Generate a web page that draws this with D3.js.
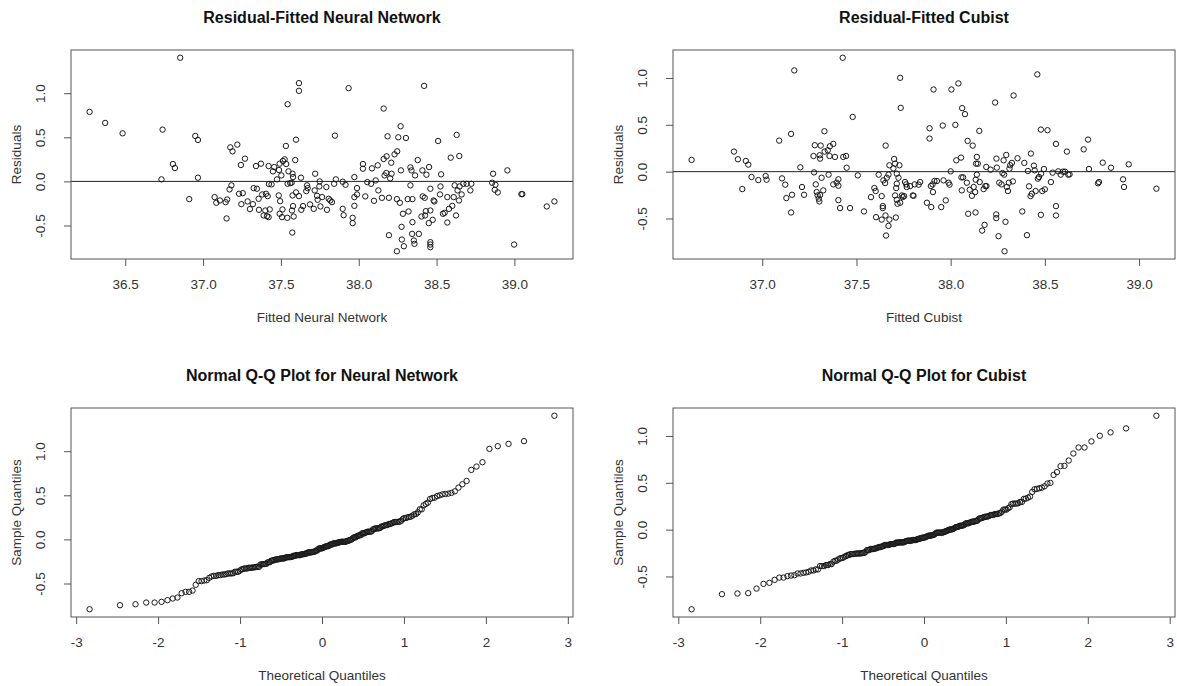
<!DOCTYPE html>
<html>
<head>
<meta charset="utf-8">
<script src="https://cdn.jsdelivr.net/npm/d3@7"></script>
<style>
body{margin:0;background:#fff;}
text{font-family:"Liberation Sans",Arial,sans-serif;}
</style>
</head>
<body>
<script>
// residuals, neural network model
var nnFitted=[36.271,36.371,36.483,36.853,36.740,36.733,36.806,36.819,36.950,36.967,36.967,36.911,
37.074,37.085,37.108,37.145,37.155,37.151,37.170,37.182,37.175,37.189,37.220,37.243,37.269,37.231,
37.255,37.246,37.286,37.301,37.320,37.325,37.346,37.340,37.372,37.357,37.359,37.380,37.389,37.400,
37.410,37.421,37.428,37.415,37.404,37.421,37.423,37.440,37.457,37.449,37.475,37.488,37.492,37.503,
37.513,37.524,37.534,37.549,37.532,37.543,37.597,37.592,37.616,37.616,37.575,37.578,37.560,37.543,
37.569,37.629,37.486,37.495,37.510,37.492,37.507,37.541,37.575,37.578,37.571,37.582,37.573,37.597,
37.616,37.642,37.631,37.663,37.672,37.668,37.687,37.711,37.720,37.717,37.732,37.736,37.749,37.747,
37.765,37.754,37.796,37.792,37.807,37.817,37.828,
37.935,37.847,37.853,37.842,37.897,37.915,37.897,37.903,37.961,37.961,37.972,37.972,37.989,37.989,
37.972,38.027,38.027,38.042,38.055,38.079,38.085,38.098,38.109,38.122,38.126,38.149,38.160,38.160,
38.166,38.177,38.179,38.185,38.194,38.202,38.209,38.211,38.194,38.230,38.247,38.245,38.264,38.254,
38.269,38.303,38.271,38.284,38.275,38.277,38.290,38.245,38.315,38.320,38.332,38.339,38.345,38.332,
38.345,38.343,38.354,38.358,38.362,38.379,38.386,38.403,38.409,38.420,38.411,38.424,38.431,38.426,
38.435,38.452,38.460,38.460,38.460,38.460,38.460,38.450,38.475,38.481,38.486,38.510,38.522,38.525,
38.529,38.541,38.552,38.569,38.569,38.580,38.591,38.601,38.610,38.616,38.625,38.629,38.635,38.644,
38.646,38.648,38.661,38.672,38.693,38.717,38.723,38.863,38.857,38.878,38.874,38.893,38.955,38.998,
39.045,39.051,39.208,39.257];
var nnResid=[0.788,0.663,0.545,1.402,0.587,0.023,0.197,0.152,0.515,0.470,0.042,-0.201,
-0.178,-0.242,-0.216,-0.235,-0.205,-0.420,-0.091,-0.045,0.386,0.341,0.417,0.186,0.258,-0.140,
-0.133,-0.258,-0.227,-0.314,-0.258,-0.076,-0.083,0.174,0.201,-0.197,-0.322,-0.148,-0.386,-0.330,
-0.394,-0.405,-0.318,-0.167,-0.140,0.174,-0.030,-0.034,0.163,0.114,0.023,0.129,0.201,0.068,
0.231,0.250,0.197,0.114,0.402,0.875,0.473,0.242,1.114,1.027,0.087,0.049,-0.019,-0.027,
-0.015,0.042,-0.159,-0.224,-0.318,-0.367,-0.405,-0.413,-0.159,-0.280,-0.330,-0.398,-0.580,-0.125,
-0.167,-0.280,-0.322,-0.110,-0.076,-0.045,-0.261,-0.311,0.087,-0.102,-0.163,-0.208,0.000,-0.057,
-0.178,-0.284,-0.322,-0.064,-0.197,-0.216,-0.235,
1.057,0.519,0.023,-0.027,-0.004,-0.038,-0.311,-0.383,-0.413,-0.473,-0.277,-0.178,-0.148,-0.076,
0.049,0.197,0.144,-0.170,-0.008,-0.027,0.148,-0.220,0.011,0.182,-0.102,-0.186,0.254,0.826,
0.068,0.095,0.284,0.511,-0.186,0.034,0.212,0.087,-0.610,0.307,0.341,-0.201,-0.242,0.500,
0.625,0.492,0.125,-0.367,-0.515,-0.659,-0.735,-0.792,-0.201,-0.341,0.159,0.125,-0.201,-0.045,
-0.462,-0.595,-0.670,-0.708,0.068,0.242,-0.595,-0.398,0.125,1.083,-0.170,-0.186,-0.337,-0.386,
0.076,0.163,-0.083,-0.330,-0.689,-0.716,-0.746,-0.473,-0.436,-0.216,-0.227,0.458,-0.148,-0.057,
0.080,-0.367,-0.356,-0.178,-0.466,-0.311,0.269,-0.277,-0.178,-0.045,-0.386,0.527,-0.102,-0.216,
0.288,-0.057,-0.148,-0.027,-0.027,-0.102,-0.027,0.087,-0.015,-0.038,-0.095,-0.125,0.125,-0.716,
-0.144,-0.144,-0.284,-0.227];

// residuals, cubist model
var cbFitted=[36.625,36.850,36.871,36.894,36.913,36.926,36.943,36.979,37.018,37.023,37.090,37.105,
37.122,37.128,37.153,37.158,37.153,37.170,37.202,37.211,37.222,37.272,37.279,37.275,37.284,37.289,
37.294,37.300,37.307,37.307,37.305,37.310,37.315,37.303,37.324,37.330,37.331,37.348,37.352,37.357,
37.359,37.377,37.377,37.386,37.395,37.404,37.404,37.404,37.413,37.427,37.430,37.445,37.448,37.466,
37.480,37.507,37.540,37.577,37.595,37.602,37.604,37.618,
37.655,37.634,37.640,37.640,37.634,37.654,37.675,37.670,37.657,37.709,37.643,37.652,37.661,37.670,
37.675,37.700,37.705,37.728,37.696,37.714,37.723,37.732,37.735,37.714,37.711,37.705,37.714,37.718,
37.732,37.741,37.746,37.753,37.758,37.764,37.767,37.785,37.799,37.803,37.809,37.830,37.838,37.874,
37.888,37.888,37.895,37.897,37.906,37.904,37.909,37.914,37.927,37.950,37.958,37.962,37.974,37.989,
37.994,38.000,38.004,38.025,38.030,38.041,38.055,38.057,38.066,38.061,38.076,38.059,38.086,38.090,
38.093,38.101,38.113,38.117,38.122,38.132,38.133,38.135,38.144,38.139,38.139,38.130,38.152,38.154,
38.175,38.184,38.189,38.190,38.167,38.180,38.212,38.236,38.243,38.245,38.242,38.242,38.254,38.258,
38.270,38.275,38.281,38.284,38.291,38.286,38.295,38.298,38.304,38.309,38.312,38.316,38.325,38.334,
38.330,38.355,38.380,38.391,38.405,38.416,38.426,38.410,38.424,38.431,38.442,38.446,38.451,38.460,
38.463,38.469,38.479,38.479,38.486,38.480,38.495,38.500,38.514,38.532,38.541,38.559,38.559,38.559,
38.571,38.584,38.596,38.607,38.617,38.624,38.631,38.706,38.729,38.734,38.782,38.787,38.807,38.851,
38.915,38.920,38.945,39.092];
var cbResid=[0.125,0.214,0.132,-0.186,0.114,0.075,-0.057,-0.090,-0.047,-0.086,0.331,-0.072,
-0.139,-0.282,0.403,-0.247,-0.436,1.081,0.046,-0.164,-0.247,0.167,0.282,-0.008,-0.136,-0.218,
-0.254,-0.289,-0.250,0.139,0.175,0.278,-0.065,-0.318,-0.200,0.431,0.214,0.228,-0.032,0.167,
0.271,0.296,-0.136,0.157,-0.118,-0.150,-0.082,-0.304,-0.389,1.216,0.157,0.167,0.042,-0.389,
0.584,-0.040,-0.425,-0.272,-0.175,-0.207,-0.486,-0.032,
0.278,-0.261,-0.368,-0.389,-0.512,-0.468,-0.512,-0.579,-0.682,-0.490,-0.093,-0.122,-0.065,-0.032,
0.068,0.135,0.085,0.068,0.035,-0.022,-0.065,1.002,0.681,-0.129,-0.175,-0.254,-0.300,-0.343,
-0.332,-0.254,-0.272,-0.261,-0.111,-0.136,-0.164,-0.154,-0.254,-0.258,-0.136,-0.139,-0.111,-0.332,
0.463,0.353,-0.154,-0.378,-0.218,-0.136,0.877,-0.100,-0.100,-0.378,0.492,-0.093,-0.307,-0.118,
-0.139,0.003,0.877,0.499,0.121,0.942,0.150,-0.061,-0.061,0.678,0.614,-0.200,-0.118,0.328,
-0.450,-0.193,-0.258,0.278,-0.164,-0.436,-0.086,0.085,0.085,0.157,-0.032,-0.218,0.435,-0.111,
-0.186,-0.154,0.050,-0.154,-0.629,-0.568,0.021,0.738,0.139,0.043,-0.457,-0.496,-0.689,-0.118,
-0.136,-0.015,0.121,-0.032,-0.536,-0.850,0.178,-0.164,-0.207,-0.118,0.032,0.068,0.093,0.813,
-0.104,0.143,-0.425,0.093,-0.678,-0.157,0.193,0.007,-0.261,-0.236,0.064,0.014,-0.207,1.038,
-0.075,-0.057,0.449,-0.461,-0.207,-0.022,0.028,-0.189,0.442,-0.111,-0.011,0.296,-0.368,-0.468,
0.003,-0.032,0.000,0.000,0.214,-0.032,-0.029,0.238,0.342,0.028,-0.125,-0.111,0.096,0.042,
-0.082,-0.164,0.078,-0.182];

var nnXTicks=[36.5,37.0,37.5,38.0,38.5,39.0];
var cbXTicks=[37.0,37.5,38.0,38.5,39.0];
var residTicks=[-0.5,0.0,0.5,1.0];
var qqTicks=[-3,-2,-1,0,1,2,3];

var svg=d3.select("body").append("svg")
    .attr("width",1177)
    .attr("height",686);

// inverse normal cdf (Acklam), used the same way as qnorm(ppoints(n)) in R
function qnorm(p){
    var a=[-3.969683028665376e+01,2.209460984245205e+02,-2.759285104469687e+02,1.383577518672690e+02,-3.066479806614716e+01,2.506628277459239e+00];
    var b=[-5.447609879822406e+01,1.615858368580409e+02,-1.556989798598866e+02,6.680131188771972e+01,-1.328068155288572e+01];
    var c=[-7.784894002430293e-03,-3.223964580411365e-01,-2.400758277161838e+00,-2.549671010243269e+00,4.374664141464968e+00,2.938163982698783e+00];
    var d=[7.784695709041462e-03,3.224671290700398e-01,2.445134137142996e+00,3.754408661907416e+00];
    var q,r;
    if(p<0.02425){
        q=Math.sqrt(-2*Math.log(p));
        return (((((c[0]*q+c[1])*q+c[2])*q+c[3])*q+c[4])*q+c[5])/((((d[0]*q+d[1])*q+d[2])*q+d[3])*q+1);
    }
    if(p>1-0.02425){
        q=Math.sqrt(-2*Math.log(1-p));
        return -(((((c[0]*q+c[1])*q+c[2])*q+c[3])*q+c[4])*q+c[5])/((((d[0]*q+d[1])*q+d[2])*q+d[3])*q+1);
    }
    q=p-0.5; r=q*q;
    return (((((a[0]*r+a[1])*r+a[2])*r+a[3])*r+a[4])*r+a[5])*q/(((((b[0]*r+b[1])*r+b[2])*r+b[3])*r+b[4])*r+1);
}

function qqData(res){
    var s=res.slice().sort(d3.ascending);
    var n=s.length;
    return {x:s.map(function(v,i){return qnorm((i+0.5)/n);}),y:s};
}

// R pads the data range by 4% on each side
function pad(ext){
    var r=ext[1]-ext[0];
    return [ext[0]-0.04*r,ext[1]+0.04*r];
}

var f1=function(d){return d.toFixed(1);};
var f0=function(d){return String(d);};

function panel(o){
    var g=svg.append("g");
    var x=d3.scaleLinear().domain(pad(d3.extent(o.xs))).range([o.left,o.right]);
    var y=d3.scaleLinear().domain(pad(d3.extent(o.ys))).range([o.bottom,o.top]);

    if(o.hline){
        g.append("line")
            .attr("x1",o.left).attr("x2",o.right)
            .attr("y1",y(0)).attr("y2",y(0))
            .attr("stroke","#222").attr("stroke-width",1);
    }

    g.selectAll("circle")
        .data(d3.range(o.xs.length))
        .enter()
        .append("circle")
        .attr("cx",function(i){return x(o.xs[i]);})
        .attr("cy",function(i){return y(o.ys[i]);})
        .attr("r",2.7)
        .attr("fill","none")
        .attr("stroke","#1a1a1a")
        .attr("stroke-width",1);

    g.append("rect")
        .attr("x",o.left).attr("y",o.top)
        .attr("width",o.right-o.left).attr("height",o.bottom-o.top)
        .attr("fill","none").attr("stroke","#555").attr("stroke-width",1);

    var ax=g.append("g")
        .attr("transform","translate(0,"+o.bottom+")")
        .call(d3.axisBottom(x).tickValues(o.xTicks).tickFormat(o.xFmt).tickSize(7));
    ax.select(".domain").remove();
    ax.selectAll("line").attr("stroke","#555");
    ax.selectAll("text").attr("y",30).attr("dy",0)
        .attr("fill","#333").style("font-size","13.5px").style("font-family","Liberation Sans, Arial, sans-serif");

    var ay=g.append("g")
        .attr("transform","translate("+o.left+",0)")
        .call(d3.axisLeft(y).tickValues(o.yTicks).tickFormat(f1).tickSize(7));
    ay.select(".domain").remove();
    ay.selectAll("line").attr("stroke","#555");
    ay.selectAll("text")
        .attr("x",0).attr("y",-26).attr("dy",0)
        .attr("transform","rotate(-90)")
        .attr("text-anchor","middle")
        .attr("fill","#333").style("font-size","13.5px").style("font-family","Liberation Sans, Arial, sans-serif");

    var cx=(o.left+o.right)/2, cy=(o.top+o.bottom)/2;
    g.append("text")
        .attr("x",cx).attr("y",o.top-27)
        .attr("text-anchor","middle")
        .style("font-size","16px").style("font-weight","bold")
        .attr("fill","#111")
        .text(o.title);
    g.append("text")
        .attr("x",cx).attr("y",o.bottom+63)
        .attr("text-anchor","middle")
        .style("font-size","13.5px")
        .attr("fill","#333")
        .text(o.xlab);
    g.append("text")
        .attr("transform","translate("+(o.left-50)+","+cy+") rotate(-90)")
        .attr("text-anchor","middle")
        .style("font-size","13.5px")
        .attr("fill","#333")
        .text(o.ylab);
}

var qqNN=qqData(nnResid);
var qqCB=qqData(cbResid);

panel({xs:nnFitted,ys:nnResid,left:71,right:573,top:50,bottom:259,xTicks:nnXTicks,yTicks:residTicks,xFmt:f1,
    hline:true,title:"Residual-Fitted Neural Network",xlab:"Fitted Neural Network",ylab:"Residuals"});
panel({xs:cbFitted,ys:cbResid,left:673,right:1175,top:50,bottom:259,xTicks:cbXTicks,yTicks:residTicks,xFmt:f1,
    hline:true,title:"Residual-Fitted Cubist",xlab:"Fitted Cubist",ylab:"Residuals"});
panel({xs:qqNN.x,ys:qqNN.y,left:71,right:573,top:408,bottom:617,xTicks:qqTicks,yTicks:residTicks,xFmt:f0,
    hline:false,title:"Normal Q-Q Plot for Neural Network",xlab:"Theoretical Quantiles",ylab:"Sample Quantiles"});
panel({xs:qqCB.x,ys:qqCB.y,left:673,right:1175,top:408,bottom:617,xTicks:qqTicks,yTicks:residTicks,xFmt:f0,
    hline:false,title:"Normal Q-Q Plot for Cubist",xlab:"Theoretical Quantiles",ylab:"Sample Quantiles"});
</script>
</body>
</html>
